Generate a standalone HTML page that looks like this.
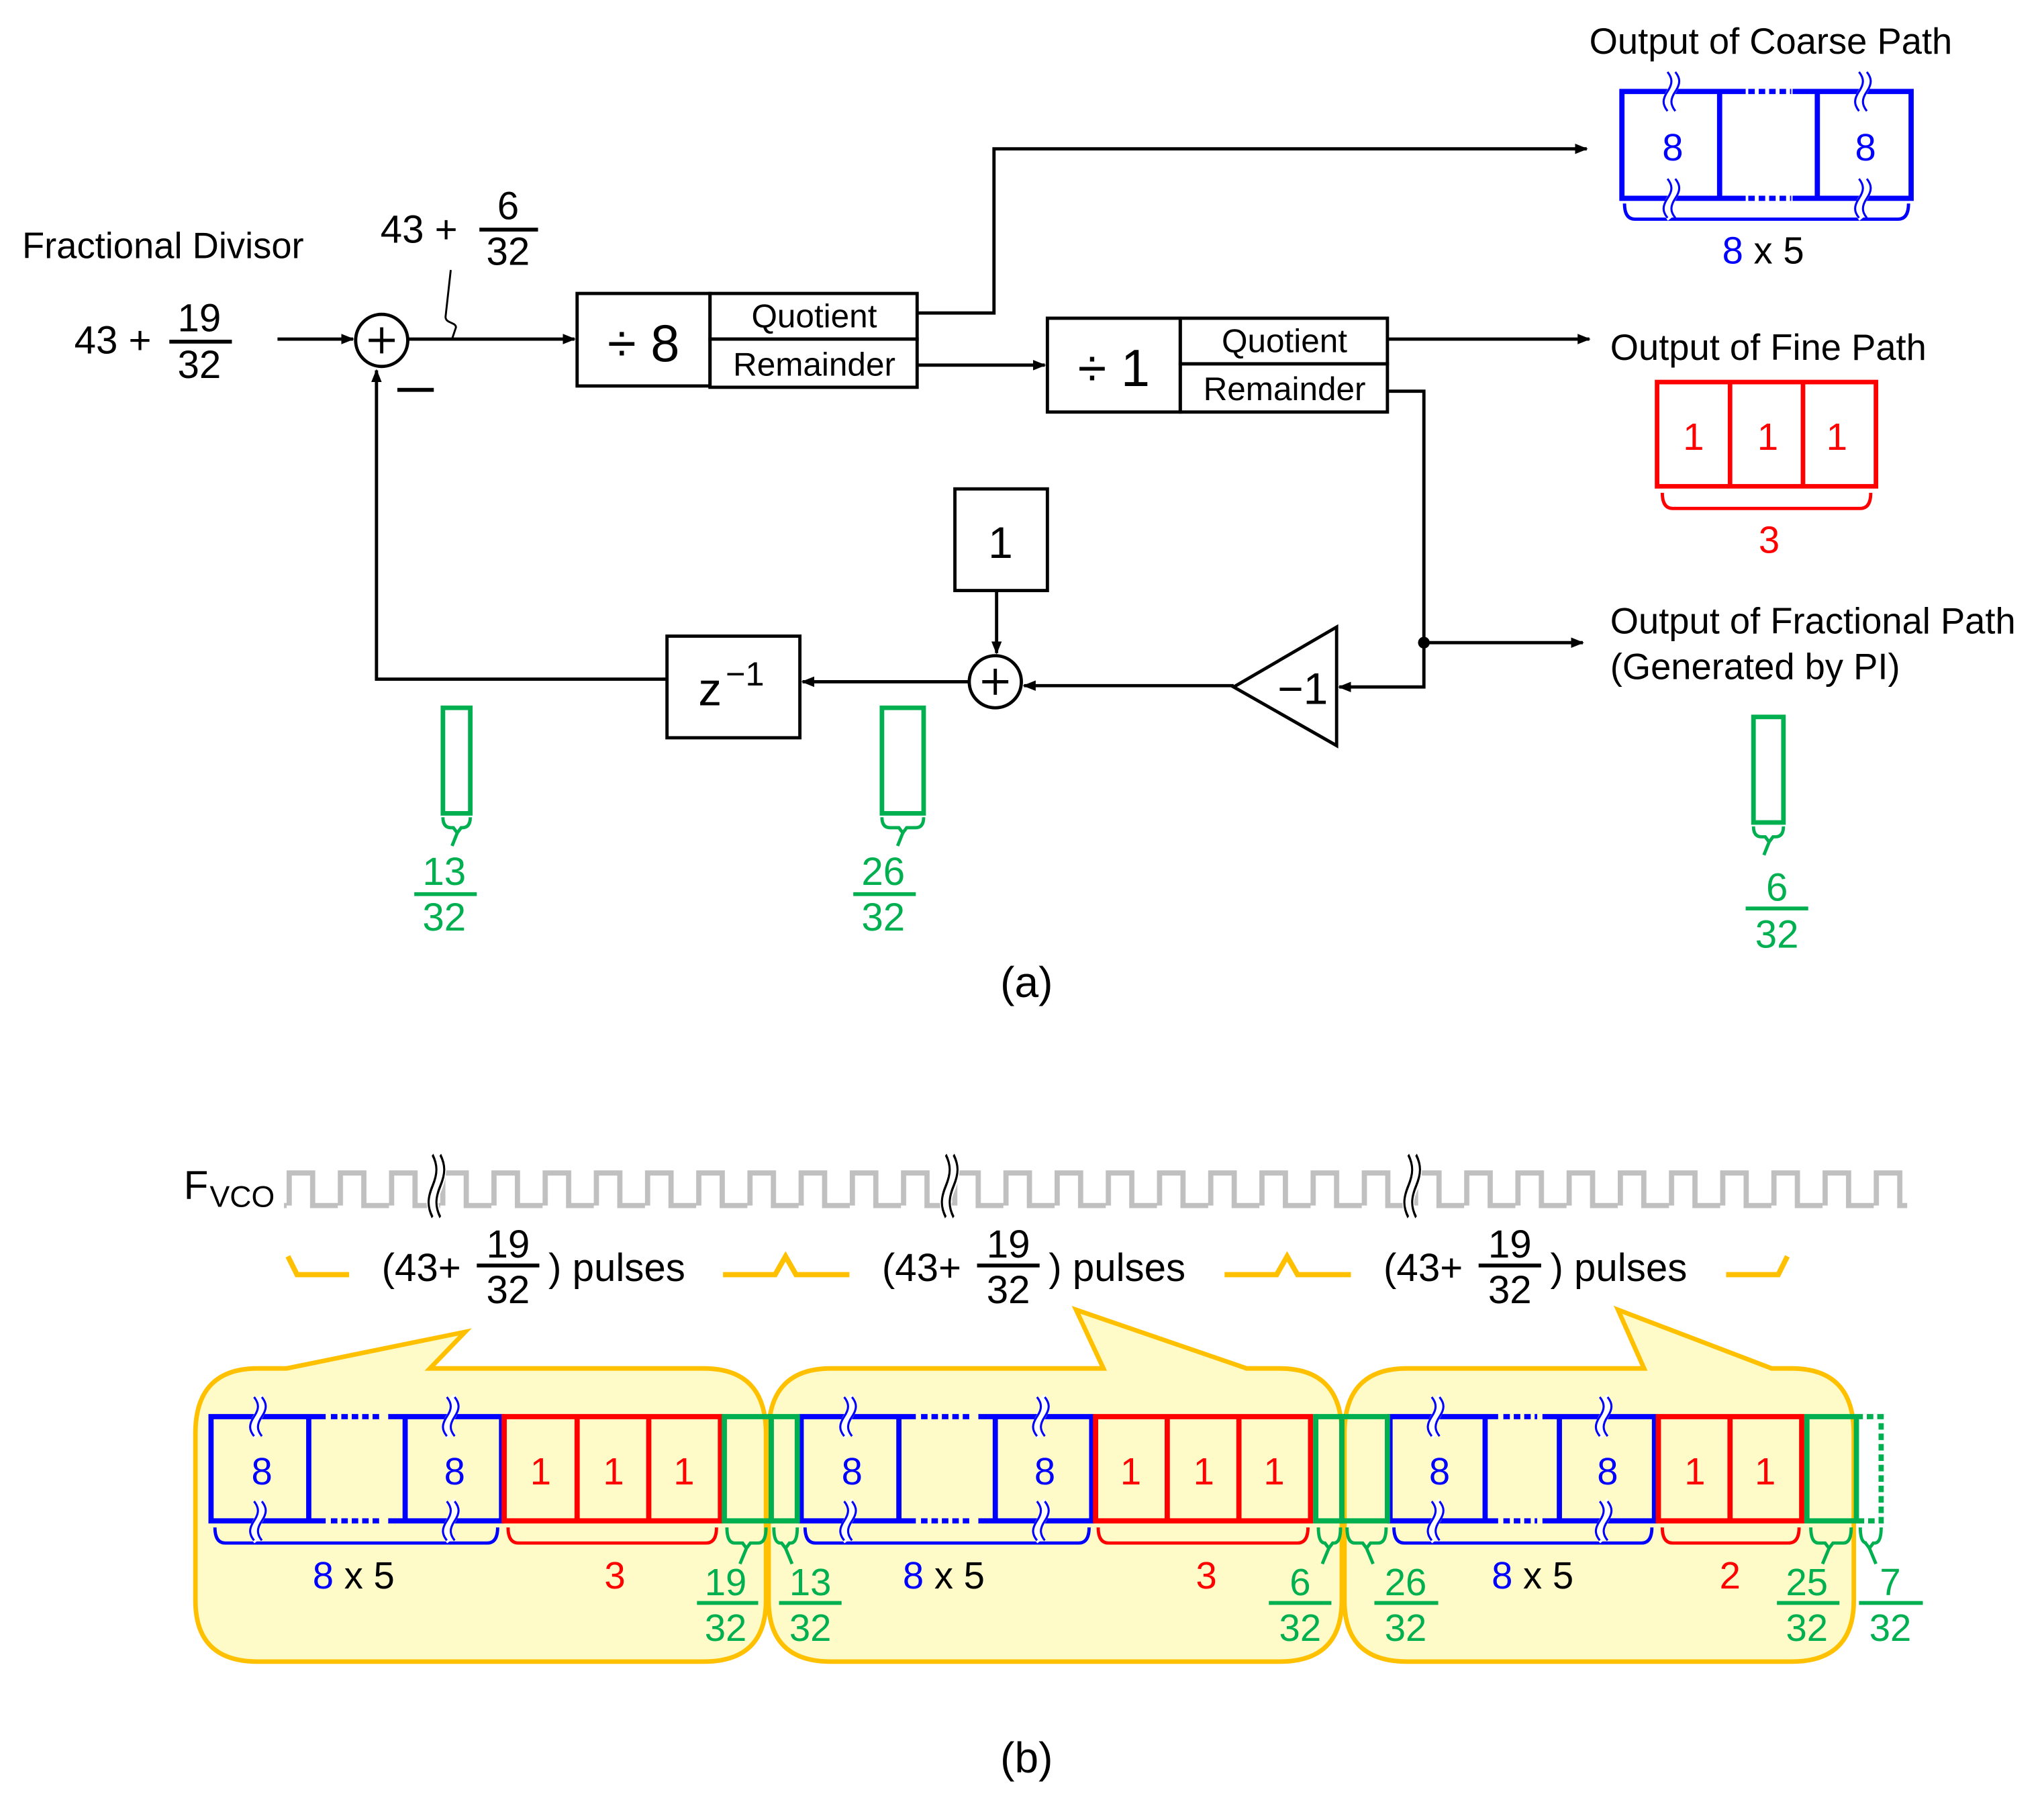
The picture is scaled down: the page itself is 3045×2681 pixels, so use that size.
<!DOCTYPE html>
<html><head><meta charset="utf-8"><style>
html,body{margin:0;padding:0;background:#fff;}
svg{display:block;}
text{font-family:"Liberation Sans",Arial,sans-serif;}
</style></head><body>
<svg width="3045" height="2681" viewBox="0 0 1569 1381" xmlns="http://www.w3.org/2000/svg">
<defs>
<marker id="ar" markerWidth="10" markerHeight="10" refX="9" refY="5" orient="auto" markerUnits="userSpaceOnUse"><path d="M0,1 L10,5 L0,9 Z" fill="#000"/></marker>
<path id="w" d="M-2,-15 c4,5 4,9 0,15 c-4,6 -4,10 0,15" fill="none"/>
<g id="sqB"><use href="#w" stroke="#fff" stroke-width="7"/><use href="#w" x="-3" stroke="#00f" stroke-width="1.6"/><use href="#w" x="3" stroke="#00f" stroke-width="1.6"/></g>
<g id="sqK"><use href="#w" stroke="#fff" stroke-width="9" transform="scale(1,1.6)"/><use href="#w" x="-3" stroke="#000" stroke-width="1.6" transform="scale(1,1.6)"/><use href="#w" x="3" stroke="#000" stroke-width="1.6" transform="scale(1,1.6)"/></g>
<pattern id="pul" patternUnits="userSpaceOnUse" x="220" y="890" width="39.3" height="50"><path d="M2,35 V10 H20 V35 H41" fill="none" stroke="#c0c0c0" stroke-width="4"/></pattern>
</defs>

<!-- ===== (a) ===== -->
<g font-size="28" fill="#000">
<text x="1220" y="41">Output of Coarse Path</text>
<text x="1236" y="276">Output of Fine Path</text>
<text x="1236" y="486">Output of Fractional Path</text>
<text x="1236" y="521">(Generated by PI)</text>
<text x="17" y="198">Fractional Divisor</text>
<text x="57" y="271" font-size="30">43 +</text>
<text x="153" y="254" font-size="30" text-anchor="middle">19</text>
<text x="153" y="290" font-size="30" text-anchor="middle">32</text>
<text x="292" y="186" font-size="30">43 +</text>
<text x="390" y="168" font-size="30" text-anchor="middle">6</text>
<text x="390" y="203" font-size="30" text-anchor="middle">32</text>
<text x="788" y="765" font-size="33" text-anchor="middle">(a)</text>
</g>
<g stroke="#000" stroke-width="3" fill="none">
<line x1="130" y1="262" x2="178" y2="262"/>
<line x1="368" y1="176" x2="413" y2="176"/>
</g>
<g stroke="#000" stroke-width="2.5" fill="none">
<line x1="213" y1="260" x2="271" y2="260" marker-end="url(#ar)"/>
<circle cx="293" cy="261" r="20"/>
<line x1="283" y1="261" x2="303" y2="261"/><line x1="293" y1="251" x2="293" y2="271"/>
<line x1="305" y1="299" x2="333" y2="299" stroke-width="3"/>
<line x1="313" y1="260" x2="441" y2="260" marker-end="url(#ar)"/>
<path d="M346,207 L342,243 C342,248 350,247 350,251 L347,260" stroke-width="1.5"/>
<rect x="443" y="225" width="102" height="71"/>
<rect x="545" y="225" width="159" height="35"/>
<rect x="545" y="260" width="159" height="37"/>
<path d="M705,240 H763 V114 H1218" marker-end="url(#ar)"/>
<line x1="705" y1="280" x2="802" y2="280" marker-end="url(#ar)"/>
<rect x="804" y="244" width="102" height="72"/>
<rect x="906" y="244" width="159" height="35"/>
<rect x="906" y="279" width="159" height="37"/>
<line x1="1065" y1="260" x2="1220" y2="260" marker-end="url(#ar)"/>
<path d="M1065,300 H1093 V527 H1028" marker-end="url(#ar)"/>
<line x1="1093" y1="493" x2="1215" y2="493" marker-end="url(#ar)"/>
<path d="M947,527 L1026,481 V572 Z"/>
<line x1="947" y1="526" x2="786" y2="526" marker-end="url(#ar)"/>
<circle cx="764" cy="523" r="20"/>
<line x1="754" y1="523" x2="774" y2="523"/><line x1="764" y1="513" x2="764" y2="533"/>
<rect x="733" y="375" width="71" height="78"/>
<line x1="765" y1="453" x2="765" y2="501" marker-end="url(#ar)"/>
<line x1="744" y1="523" x2="616" y2="523" marker-end="url(#ar)"/>
<rect x="512" y="488" width="102" height="78"/>
<path d="M512,521 H289 V284" marker-end="url(#ar)"/>
</g>
<circle cx="1093" cy="493" r="4.5" fill="#000"/>
<g fill="#000">
<text x="494" y="277" font-size="40" text-anchor="middle">÷ 8</text>
<text x="625" y="251" font-size="25.5" text-anchor="middle">Quotient</text>
<text x="625" y="288" font-size="25.5" text-anchor="middle">Remainder</text>
<text x="855" y="296" font-size="40" text-anchor="middle">÷ 1</text>
<text x="986" y="270" font-size="25.5" text-anchor="middle">Quotient</text>
<text x="986" y="307" font-size="25.5" text-anchor="middle">Remainder</text>
<text x="1000" y="540" font-size="34" text-anchor="middle">−1</text>
<text x="768" y="428" font-size="34" text-anchor="middle">1</text>
<text x="536" y="541" font-size="36">z</text>
<text x="557" y="526" font-size="26">−1</text>
</g>

<!-- coarse box -->
<g stroke="#00f" stroke-width="4" fill="none">
<path d="M1340,70 H1245 V152 H1340"/><line x1="1320" y1="70" x2="1320" y2="152"/>
<path d="M1376,70 H1467 V152 H1376"/><line x1="1395" y1="70" x2="1395" y2="152"/>
<line x1="1342" y1="70" x2="1375" y2="70" stroke-dasharray="5,3"/>
<line x1="1342" y1="152" x2="1375" y2="152" stroke-dasharray="5,3"/>
<path d="M1247,156 q0,12 8,12 H1457 q8,0 8,-12" stroke-width="2.5"/>
</g>
<use href="#sqB" x="1285" y="70"/><use href="#sqB" x="1285" y="152"/>
<use href="#sqB" x="1432" y="70"/><use href="#sqB" x="1432" y="152"/>
<g font-size="29" fill="#00f" text-anchor="middle">
<text x="1284" y="123">8</text><text x="1432" y="123">8</text>
</g>
<text x="1322" y="202" font-size="29"><tspan fill="#00f">8</tspan><tspan fill="#000"> x 5</tspan></text>

<!-- fine box -->
<g stroke="#f00" stroke-width="3.5" fill="none">
<rect x="1272" y="293" width="168" height="80"/>
<line x1="1328" y1="293" x2="1328" y2="373"/><line x1="1384" y1="293" x2="1384" y2="373"/>
<path d="M1276,378 q0,12 8,12 H1428 q8,0 8,-12" stroke-width="2.5"/>
</g>
<g font-size="29" fill="#f00" text-anchor="middle">
<text x="1300" y="345">1</text><text x="1357" y="345">1</text><text x="1410" y="345">1</text>
<text x="1358" y="424">3</text>
</g>

<!-- green fractional ones -->
<g stroke="#00b050" stroke-width="3.5" fill="none">
<rect x="1346" y="550" width="23" height="81"/>
<rect x="340" y="543" width="21" height="81"/>
<rect x="677" y="543" width="32" height="81"/>
<path d="M1346,634 q0,8 6,8 H1355 l3,4 l3,-4 H1363 q6,0 6,-8 M1358,646 l-4,10" stroke-width="2.5"/>
<path d="M340,627 q0,8 6,8 H348 l3,4 l3,-4 H355 q6,0 6,-8 M351,639 l-4,10" stroke-width="2.5"/>
<path d="M677,627 q0,8 6,8 H690 l3,4 l3,-4 H703 q6,0 6,-8 M693,639 l-4,10" stroke-width="2.5"/>
<line x1="1340" y1="697" x2="1388" y2="697" stroke-width="3"/>
<line x1="318" y1="686" x2="366" y2="686" stroke-width="3"/>
<line x1="655" y1="686" x2="703" y2="686" stroke-width="3"/>
</g>
<g font-size="30" fill="#00b050" text-anchor="middle">
<text x="1364" y="691">6</text><text x="1364" y="727">32</text>
<text x="341" y="679">13</text><text x="341" y="714">32</text>
<text x="678" y="679">26</text><text x="678" y="714">32</text>
</g>

<!-- ===== (b) ===== -->
<text x="141" y="920" font-size="31">F</text><text x="161" y="926" font-size="23">VCO</text>
<rect x="218" y="890" width="1246" height="45" fill="url(#pul)"/>
<use href="#sqK" x="337" y="910"/><use href="#sqK" x="731" y="910"/><use href="#sqK" x="1086" y="910"/>

<g stroke="#ffc000" stroke-width="4" fill="none">
<path d="M221,964 L228,978 H268"/>
<path d="M555,978 H595 L603,964 L611,978 H652"/>
<path d="M940,978 H980 L988,964 L996,978 H1037"/>
<path d="M1325,978 H1365 L1372,964"/>
</g>
<g font-size="30" fill="#000">
<text x="293" y="983">(43+</text><text x="390" y="965" text-anchor="middle">19</text><text x="390" y="1000" text-anchor="middle">32</text><text x="421" y="983">) pulses</text>
<text x="677" y="983">(43+</text><text x="774" y="965" text-anchor="middle">19</text><text x="774" y="1000" text-anchor="middle">32</text><text x="805" y="983">) pulses</text>
<text x="1062" y="983">(43+</text><text x="1159" y="965" text-anchor="middle">19</text><text x="1159" y="1000" text-anchor="middle">32</text><text x="1190" y="983">) pulses</text>
</g>
<g stroke="#000" stroke-width="3">
<line x1="366" y1="971" x2="414" y2="971"/><line x1="750" y1="971" x2="798" y2="971"/><line x1="1135" y1="971" x2="1183" y2="971"/>
</g>

<!-- callouts -->
<g fill="#fffbc8" stroke="#ffc000" stroke-width="3.5">
<path d="M198,1050 H220 L357,1022 L330,1050 H540 Q588,1050 588,1100 V1228 Q588,1275 540,1275 H198 Q150,1275 150,1228 V1100 Q150,1050 198,1050 Z"/>
<path d="M638,1050 H847 L826,1005 L957,1050 H982 Q1030,1050 1030,1100 V1228 Q1030,1275 982,1275 H638 Q590,1275 590,1228 V1100 Q590,1050 638,1050 Z"/>
<path d="M1080,1050 H1262 L1242,1005 L1360,1050 H1375 Q1423,1050 1423,1100 V1228 Q1423,1275 1375,1275 H1080 Q1032,1275 1032,1228 V1100 Q1032,1050 1080,1050 Z"/>
</g>

<!-- row blocks -->
<g stroke="#00f" stroke-width="4" fill="none">
<path d="M250,1087 H162 V1167 H250"/><line x1="237" y1="1087" x2="237" y2="1167"/>
<path d="M298,1087 H385 V1167 H298"/><line x1="311" y1="1087" x2="311" y2="1167"/>
<line x1="254" y1="1087" x2="292" y2="1087" stroke-dasharray="5,3"/><line x1="254" y1="1167" x2="292" y2="1167" stroke-dasharray="5,3"/>
<path d="M703,1087 H615 V1167 H703"/><line x1="690" y1="1087" x2="690" y2="1167"/>
<path d="M751,1087 H838 V1167 H751"/><line x1="764" y1="1087" x2="764" y2="1167"/>
<line x1="707" y1="1087" x2="745" y2="1087" stroke-dasharray="5,3"/><line x1="707" y1="1167" x2="745" y2="1167" stroke-dasharray="5,3"/>
<path d="M1150,1087 H1067 V1167 H1150"/><line x1="1140" y1="1087" x2="1140" y2="1167"/>
<path d="M1184,1087 H1270 V1167 H1184"/><line x1="1197" y1="1087" x2="1197" y2="1167"/>
<line x1="1154" y1="1087" x2="1180" y2="1087" stroke-dasharray="5,3"/><line x1="1154" y1="1167" x2="1180" y2="1167" stroke-dasharray="5,3"/>
<path d="M165,1172 q0,12 8,12 H374 q8,0 8,-12" stroke-width="2.5"/>
<path d="M618,1172 q0,12 8,12 H828 q8,0 8,-12" stroke-width="2.5"/>
<path d="M1070,1172 q0,12 8,12 H1260 q8,0 8,-12" stroke-width="2.5"/>
</g>
<use href="#sqB" x="200" y="1087"/><use href="#sqB" x="200" y="1167"/>
<use href="#sqB" x="348" y="1087"/><use href="#sqB" x="348" y="1167"/>
<use href="#sqB" x="653" y="1087"/><use href="#sqB" x="653" y="1167"/>
<use href="#sqB" x="801" y="1087"/><use href="#sqB" x="801" y="1167"/>
<use href="#sqB" x="1104" y="1087"/><use href="#sqB" x="1104" y="1167"/>
<use href="#sqB" x="1233" y="1087"/><use href="#sqB" x="1233" y="1167"/>
<g stroke="#f00" stroke-width="4" fill="none">
<rect x="387" y="1087" width="166" height="80"/><line x1="443" y1="1087" x2="443" y2="1167"/><line x1="498" y1="1087" x2="498" y2="1167"/>
<rect x="841" y="1087" width="165" height="80"/><line x1="896" y1="1087" x2="896" y2="1167"/><line x1="951" y1="1087" x2="951" y2="1167"/>
<rect x="1273" y="1087" width="110" height="80"/><line x1="1328" y1="1087" x2="1328" y2="1167"/>
<path d="M390,1172 q0,12 8,12 H542 q8,0 8,-12" stroke-width="2.5"/>
<path d="M843,1172 q0,12 8,12 H996 q8,0 8,-12" stroke-width="2.5"/>
<path d="M1276,1172 q0,12 8,12 H1373 q8,0 8,-12" stroke-width="2.5"/>
</g>
<g stroke="#00b050" stroke-width="4" fill="none">
<rect x="556" y="1087" width="36" height="80"/><rect x="592" y="1087" width="20" height="80"/>
<rect x="1010" y="1087" width="20" height="80"/><rect x="1030" y="1087" width="35" height="80"/>
<path d="M1425,1087 H1387 V1167 H1425 V1087"/>
<path d="M1425,1087 H1444 V1167 H1425" stroke-dasharray="5,3"/>
<g stroke-width="2.5">
<path d="M558,1172 q0,12 6,12 H570 l3,4 l3,-4 H582 q6,0 6,-12 M573,1188 l-5,12"/>
<path d="M594,1172 q0,12 5,12 H600 l3,4 l3,-4 H607 q5,0 5,-12 M603,1188 l5,12"/>
<path d="M1012,1172 q0,12 5,12 H1017 l3,4 l3,-4 H1024 q5,0 5,-12 M1020,1188 l-5,12"/>
<path d="M1034,1172 q0,12 6,12 H1046 l3,4 l3,-4 H1058 q6,0 6,-12 M1049,1188 l5,12"/>
<path d="M1390,1172 q0,12 6,12 H1401 l3,4 l3,-4 H1415 q6,0 6,-12 M1404,1188 l-5,12"/>
<path d="M1428,1172 q0,12 5,12 H1432 l3,4 l3,-4 H1439 q5,0 5,-12 M1435,1188 l5,12"/>
</g>
<g stroke-width="3">
<line x1="535" y1="1230" x2="582" y2="1230"/><line x1="598" y1="1230" x2="646" y2="1230"/>
<line x1="974" y1="1230" x2="1022" y2="1230"/><line x1="1055" y1="1230" x2="1104" y2="1230"/>
<line x1="1364" y1="1230" x2="1412" y2="1230"/><line x1="1427" y1="1230" x2="1476" y2="1230"/>
</g>
</g>
<g font-size="29" text-anchor="middle">
<g fill="#00f"><text x="201" y="1139">8</text><text x="349" y="1139">8</text><text x="654" y="1139">8</text><text x="802" y="1139">8</text><text x="1105" y="1139">8</text><text x="1234" y="1139">8</text></g>
<g fill="#f00"><text x="415" y="1139">1</text><text x="471" y="1139">1</text><text x="525" y="1139">1</text>
<text x="868" y="1139">1</text><text x="924" y="1139">1</text><text x="978" y="1139">1</text>
<text x="1301" y="1139">1</text><text x="1355" y="1139">1</text>
<text x="472" y="1219">3</text><text x="926" y="1219">3</text><text x="1328" y="1219">2</text></g>
<g fill="#00b050">
<text x="557" y="1224">19</text><text x="557" y="1259">32</text>
<text x="622" y="1224">13</text><text x="622" y="1259">32</text>
<text x="998" y="1224">6</text><text x="998" y="1259">32</text>
<text x="1079" y="1224">26</text><text x="1079" y="1259">32</text>
<text x="1387" y="1224">25</text><text x="1387" y="1259">32</text>
<text x="1451" y="1224">7</text><text x="1451" y="1259">32</text>
</g>
</g>
<g font-size="29">
<text x="240" y="1219"><tspan fill="#00f">8</tspan> x 5</text>
<text x="693" y="1219"><tspan fill="#00f">8</tspan> x 5</text>
<text x="1145" y="1219"><tspan fill="#00f">8</tspan> x 5</text>
</g>
<text x="788" y="1360" font-size="33" text-anchor="middle">(b)</text>
</svg>
</body></html>
